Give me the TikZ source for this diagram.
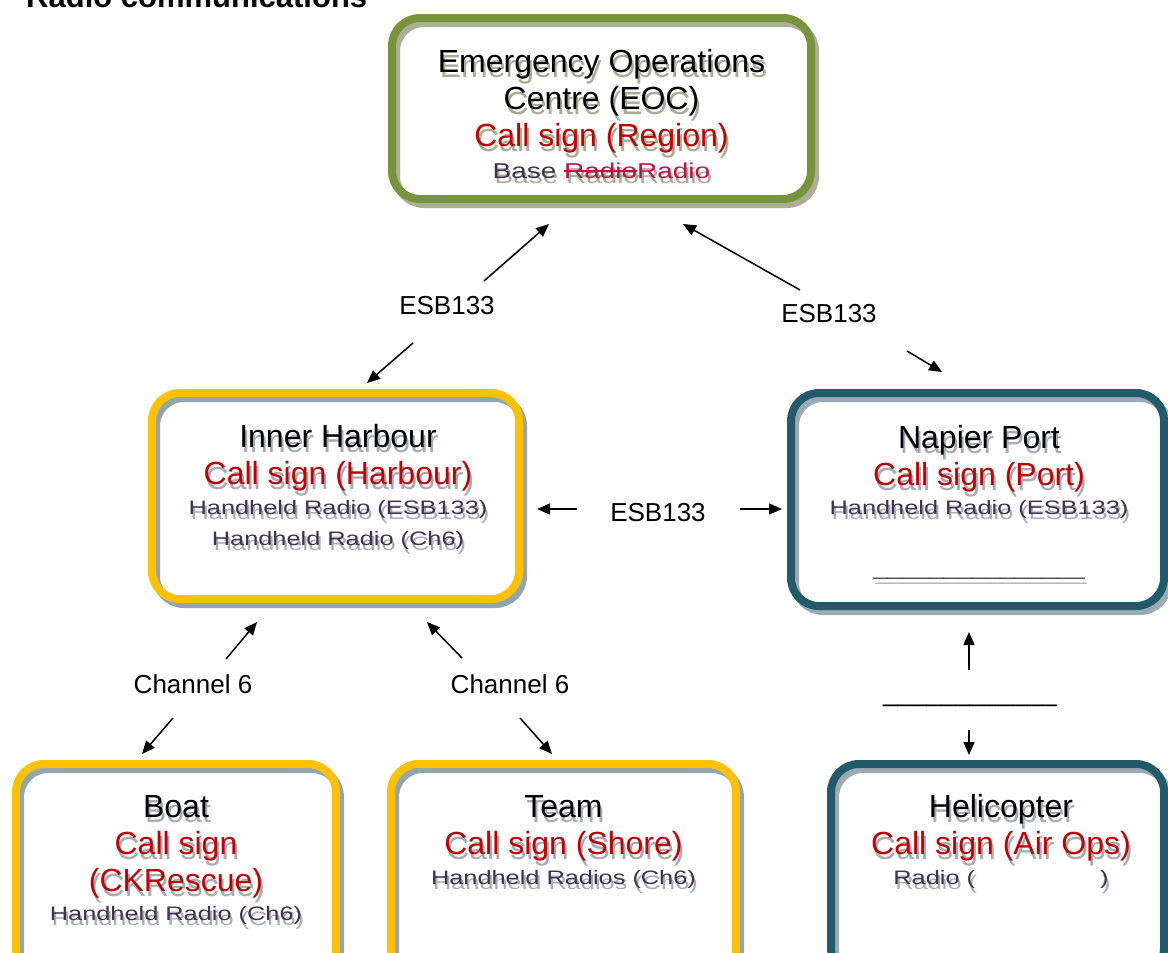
\documentclass[tikz,border=0pt]{standalone}
\usepackage{fontspec}
\setmainfont{Liberation Sans}
\newfontfamily\kitfont[FakeStretch=1.3]{Liberation Sans}
\usetikzlibrary{arrows.meta}

\definecolor{eocgreen}{HTML}{77933C}
\definecolor{goldline}{HTML}{FFC000}
\definecolor{tealline}{HTML}{215B69}
\definecolor{eocshd}{HTML}{A9B096}
\definecolor{goldshd}{HTML}{8FA6B0}
\definecolor{tealshd}{HTML}{9CAAB6}
\definecolor{signc}{HTML}{C00000}
\definecolor{kitc}{HTML}{403152}
\definecolor{editc}{HTML}{C0104A}
\definecolor{eoctxtshd}{HTML}{A7AC95}
\definecolor{txtshd}{HTML}{A6ABB6}

\newsavebox\strikebox
\newcommand\kitsize{\kitfont\fontsize{19.5}{23}\selectfont}
\newcommand\struck[2]{\sbox\strikebox{#2}\rlap{\textcolor{#1}{\rule[0.3em]{\wd\strikebox}{1.5pt}}}\usebox\strikebox}

% box texts: #1 name colour, #2 call sign colour, #3 radio colour (#4 edit colour)
\newcommand\eocLines[4]{\textcolor{#1}{Emergency Operations}\\\textcolor{#1}{Centre (EOC)}\\\textcolor{#2}{Call sign (Region)}\\[-5pt]{\kitfont\fontsize{21.5}{25}\selectfont\textcolor{#3}{Base }\textcolor{#4}{\struck{#4}{Radio}Radio}}}
\newcommand\harbourLines[3]{\textcolor{#1}{Inner Harbour}\\\textcolor{#2}{Call sign (Harbour)}\\[-7pt]{\kitsize\textcolor{#3}{Handheld Radio (ESB133)}}\\[-6pt]{\kitsize\textcolor{#3}{Handheld Radio (Ch6)}}}
\newcommand\portLines[3]{\textcolor{#1}{Napier Port}\\\textcolor{#2}{Call sign (Port)}\\[-8pt]{\kitsize\textcolor{#3}{Handheld Radio (ESB133)}}\\[24pt]{\kitsize\textcolor{#3}{\_\_\_\_\_\_\_\_\_\_\_\_\_\_\_}}}
\newcommand\boatLines[3]{\textcolor{#1}{Boat}\\\textcolor{#2}{Call sign}\\\textcolor{#2}{(CKRescue)}\\[-8pt]{\kitsize\textcolor{#3}{Handheld Radio (Ch6)}}}
\newcommand\teamLines[3]{\textcolor{#1}{Team}\\\textcolor{#2}{Call sign (Shore)}\\[-7pt]{\kitsize\textcolor{#3}{Handheld Radios (Ch6)}}}
\newcommand\heliLines[3]{\textcolor{#1}{Helicopter}\\\textcolor{#2}{Call sign (Air Ops)}\\[-7pt]{\kitsize\textcolor{#3}{Radio (\hspace*{125pt})}}}

\begin{document}
\begin{tikzpicture}[x=1pt, y=-1pt,
    box/.style={rounded corners=28pt, line width=8pt, inner sep=0pt, outer sep=0pt},
    eocbox/.style={box, draw=eocgreen, preaction={draw=eocshd, transform canvas={shift={(4,5)}}}},
    goldbox/.style={box, draw=goldline, preaction={draw=goldshd, transform canvas={shift={(4,5)}}}},
    tealbox/.style={box, draw=tealline, preaction={draw=tealshd, transform canvas={shift={(4,5)}}}},
    cardtext/.style={align=center, inner sep=0pt, anchor=base, font=\fontsize{32}{37}\selectfont},
    lbl/.style={inner sep=0pt, font=\fontsize{26}{30}\selectfont},
    link/.style={-{Triangle[length=13pt,width=11pt]}, line width=1.5pt}]
  \useasboundingbox (0,0) rectangle (1168,953);
  \clip (0,0) rectangle (1168,953);

  \node[anchor=base west, inner sep=0pt, font=\bfseries\fontsize{31}{36}\selectfont] (title) at (26,8) {Radio communications};

  % boxes
  \node[eocbox, minimum width=419pt, minimum height=181pt] (eoc) at (601.5,108.5) {};
  \node[goldbox, minimum width=367pt, minimum height=206pt] (harbour) at (335.5,496) {};
  \node[tealbox, minimum width=373pt, minimum height=213pt] (port) at (977.5,499.5) {};
  \node[goldbox, minimum width=320pt, minimum height=212pt] (boat) at (176,870) {};
  \node[goldbox, minimum width=345pt, minimum height=212pt] (team) at (563.5,870) {};
  \node[tealbox, minimum width=333pt, minimum height=212pt] (heli) at (997.5,870) {};

  % texts with their shadows (placed at the last baseline)
  \node[cardtext] (eocShd) at ([xshift=2pt,yshift=-165pt]eoc.north) {\eocLines{eoctxtshd}{eoctxtshd}{eoctxtshd}{eoctxtshd}};
  \node[cardtext] (eocTxt) at ([yshift=-160pt]eoc.north) {\eocLines{black}{signc}{kitc}{editc}};
  \node[cardtext] (harbourShd) at ([xshift=4.5pt,yshift=-157pt]harbour.north) {\harbourLines{txtshd}{txtshd}{txtshd}};
  \node[cardtext] (harbourTxt) at ([xshift=2.5pt,yshift=-152pt]harbour.north) {\harbourLines{black}{signc}{kitc}};
  \node[cardtext] (portShd) at ([xshift=3.5pt,yshift=-187pt]port.north) {\portLines{txtshd}{txtshd}{txtshd}};
  \node[cardtext] (portTxt) at ([xshift=1.5pt,yshift=-182pt]port.north) {\portLines{black}{signc}{kitc}};
  \node[cardtext] (boatShd) at ([xshift=2pt,yshift=-161pt]boat.north) {\boatLines{txtshd}{txtshd}{txtshd}};
  \node[cardtext] (boatTxt) at ([yshift=-156pt]boat.north) {\boatLines{black}{signc}{kitc}};
  \node[cardtext] (teamShd) at ([xshift=2pt,yshift=-125pt]team.north) {\teamLines{txtshd}{txtshd}{txtshd}};
  \node[cardtext] (teamTxt) at ([yshift=-120pt]team.north) {\teamLines{black}{signc}{kitc}};
  \node[cardtext] (heliShd) at ([xshift=5.5pt,yshift=-125pt]heli.north) {\heliLines{txtshd}{txtshd}{txtshd}};
  \node[cardtext] (heliTxt) at ([xshift=3.5pt,yshift=-120pt]heli.north) {\heliLines{black}{signc}{kitc}};

  % channel labels
  \node[lbl] (esbL) at (447,306) {ESB133};
  \node[lbl] (esbR) at (829,314) {ESB133};
  \node[lbl] (esbM) at (658,513) {ESB133};
  \node[lbl] (chL) at (193,684) {Channel 6};
  \node[lbl] (chR) at (510,684) {Channel 6};
  \node[lbl, anchor=base] (heliGap) at (970,701) {\_\_\_\_\_\_\_\_\_\_\_\_};

  % arrows
  \draw[link] ([shift={(37,-25)}]esbL.center) -- ([shift={(-52.5,25)}]eoc.south);
  \draw[link] ([shift={(-34,37)}]esbL.center) -- ([shift={(31.5,-10)}]harbour.north);
  \draw[link] ([shift={(-29,-24)}]esbR.center) -- ([shift={(81.5,25)}]eoc.south);
  \draw[link] ([shift={(78,37)}]esbR.center) -- ([shift={(-35.5,-21)}]port.north);
  \draw[link] ([shift={(-81,-4)}]esbM.center) -- ([shift={(18,13)}]harbour.east);
  \draw[link] ([shift={(82,-4)}]esbM.center) -- ([shift={(-9,9.5)}]port.west);
  \draw[link] ([shift={(33,-25)}]chL.center) -- ([shift={(-78.5,23)}]harbour.south);
  \draw[link] ([shift={(-20,34)}]chL.center) -- ([shift={(-34,-10)}]boat.north);
  \draw[link] ([shift={(-48,-26)}]chR.center) -- ([shift={(91.5,23)}]harbour.south);
  \draw[link] ([shift={(10,34)}]chR.center) -- ([shift={(-11.5,-10)}]team.north);
  \draw[link] ([shift={(-1,-31)}]heliGap.base) -- ([shift={(-8.5,26)}]port.south);
  \draw[link] ([shift={(-1,29)}]heliGap.base) -- ([shift={(-28.5,-9)}]heli.north);
\end{tikzpicture}
\end{document}
